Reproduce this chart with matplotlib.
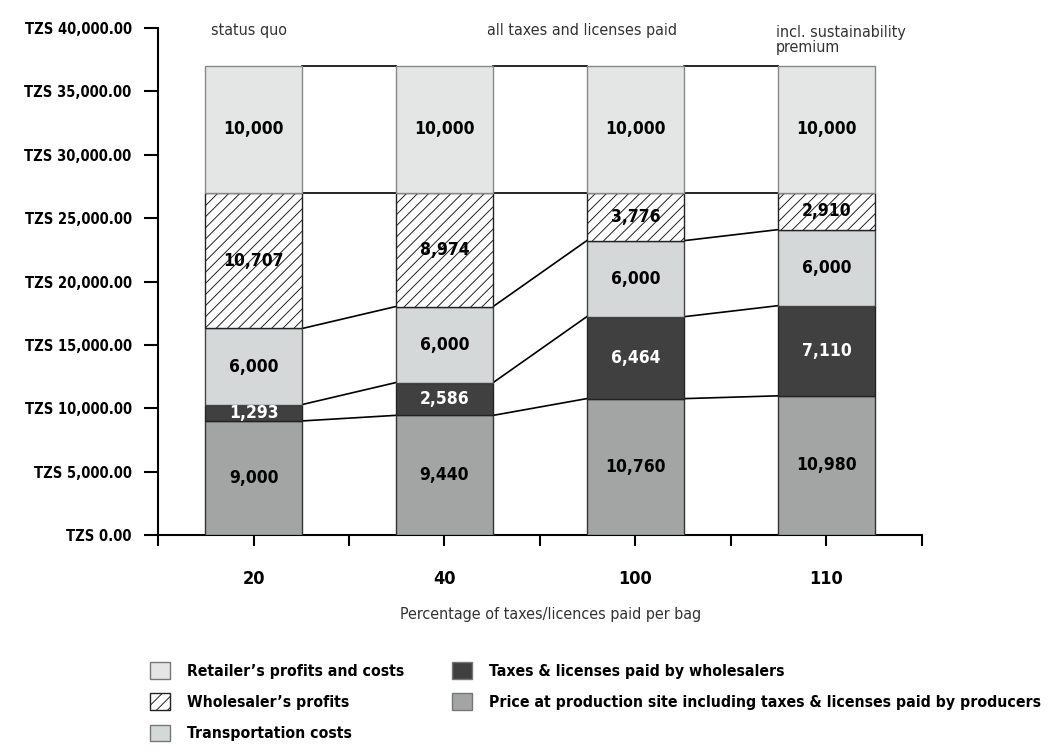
import numpy as np
import matplotlib
matplotlib.use('Agg')
import matplotlib.pyplot as plt
from matplotlib.patches import Patch

plt.rcParams['font.family'] = ['DejaVu Sans']
plt.rcParams['font.stretch'] = 'condensed'
plt.rcParams['hatch.linewidth'] = 0.7

# ── Data ──
categories = ['20', '40', '100', '110']
price_production = [9000, 9440, 10760, 10980]
taxes_wholesalers = [1293, 2586, 6464, 7110]
transportation = [6000, 6000, 6000, 6000]
wholesaler_profit = [10707, 8974, 3776, 2910]
retailer_profit = [10000, 10000, 10000, 10000]
scenario_notes = ['status quo', 'all taxes and licenses paid', 'incl. sustainability\npremium']

layers = [
    (price_production, '#a3a5a5', '#333333', '', 'black',
     'Price at production site including taxes & licenses paid by producers'),
    (taxes_wholesalers, '#3f403f', '#222222', '', 'white',
     'Taxes & licenses paid by wholesalers'),
    (transportation, '#d5d8d8', '#444444', '', 'black', 'Transportation costs'),
    (wholesaler_profit, 'white', '#222222', '///', 'black', "Wholesaler\u2019s profits"),
    (retailer_profit, '#e4e5e5', '#888888', '', 'black', "Retailer\u2019s profits and costs"),
]

fig = plt.figure(figsize=(10.5, 7.53), dpi=100)
ax = fig.add_axes([0.1505, 0.2895, 0.7275, 0.6733])

x = np.arange(len(categories))
width = 0.51
bottom = np.zeros(len(categories))
tops = []
for vals, face, edge, hatch, tcol, label in layers:
    vals = np.array(vals, dtype=float)
    ax.bar(x, vals, width, bottom=bottom, color=face, edgecolor=edge,
           hatch=hatch, linewidth=1.0, zorder=3)
    for xi, b, v in zip(x, bottom, vals):
        ax.text(xi, b + v / 2, f'{int(v):,}', ha='center', va='center',
                fontsize=12.5, fontweight='bold', color=tcol, zorder=5)
    bottom = bottom + vals
    tops.append(bottom.copy())

# connector lines between neighbouring bars
levels = [np.array(price_production, dtype=float)] + tops[1:]
for lev in levels:
    for i in range(len(categories) - 1):
        ax.plot([x[i] + width / 2, x[i + 1] - width / 2], [lev[i], lev[i + 1]],
                color='black', linewidth=1.2, zorder=2)

# ── Axes ──
ax.set_xlim(-0.5, 3.5)
ax.set_ylim(0, 40000)
ax.set_yticks(np.arange(0, 40001, 5000))
ax.set_yticklabels([f'TZS {v:,.2f}' for v in np.arange(0, 40001, 5000)],
                   fontsize=10.5, fontweight='bold')
ax.set_xticks(np.arange(-0.5, 3.51, 0.5))
ax.set_xticklabels([''] + sum([[c, ''] for c in categories], []),
                   fontsize=13, fontweight='bold')
ax.tick_params(axis='y', length=10, width=1.5, pad=9)
ax.tick_params(axis='x', length=8, width=1.5, pad=17)
for s in ['top', 'right']:
    ax.spines[s].set_visible(False)
for s in ['left', 'bottom']:
    ax.spines[s].set_linewidth(1.5)
ax.set_xlabel('Percentage of taxes/licences paid per bag', fontsize=11.5,
              color='#333333')
ax.xaxis.set_label_coords(0.514, -0.142)

# scenario notes above the bars
ax.text(-0.225, 39800, scenario_notes[0], fontsize=11.5, color='#333333', ha='left', va='center')
ax.text(1.72, 39800, scenario_notes[1], fontsize=11.5, color='#333333', ha='center', va='center')
ax.text(2.735, 39050, scenario_notes[2], fontsize=11.5, color='#333333', ha='left', va='center',
        linespacing=0.95)

# ── Legend (two columns placed separately) ──
def legend_handle(k):
    face, edge, hatch, lab = layers[k][1], layers[k][2], layers[k][3], layers[k][5]
    return Patch(facecolor=face, edgecolor=edge if hatch else '#777777', hatch=hatch, label=lab)

leg_kw = dict(loc='upper left', frameon=False, prop=dict(size=11.3, weight='bold'),
              handlelength=1.25, handleheight=1.25, handletextpad=1.1,
              labelspacing=0.93, borderaxespad=0, borderpad=0)
fig.legend(handles=[legend_handle(k) for k in (4, 3, 2)],
           bbox_to_anchor=(0.1429, 0.1205), **leg_kw)
fig.legend(handles=[legend_handle(k) for k in (1, 0)],
           bbox_to_anchor=(0.4305, 0.1205), **leg_kw)

fig.savefig('out.png', dpi=100, facecolor='white')
